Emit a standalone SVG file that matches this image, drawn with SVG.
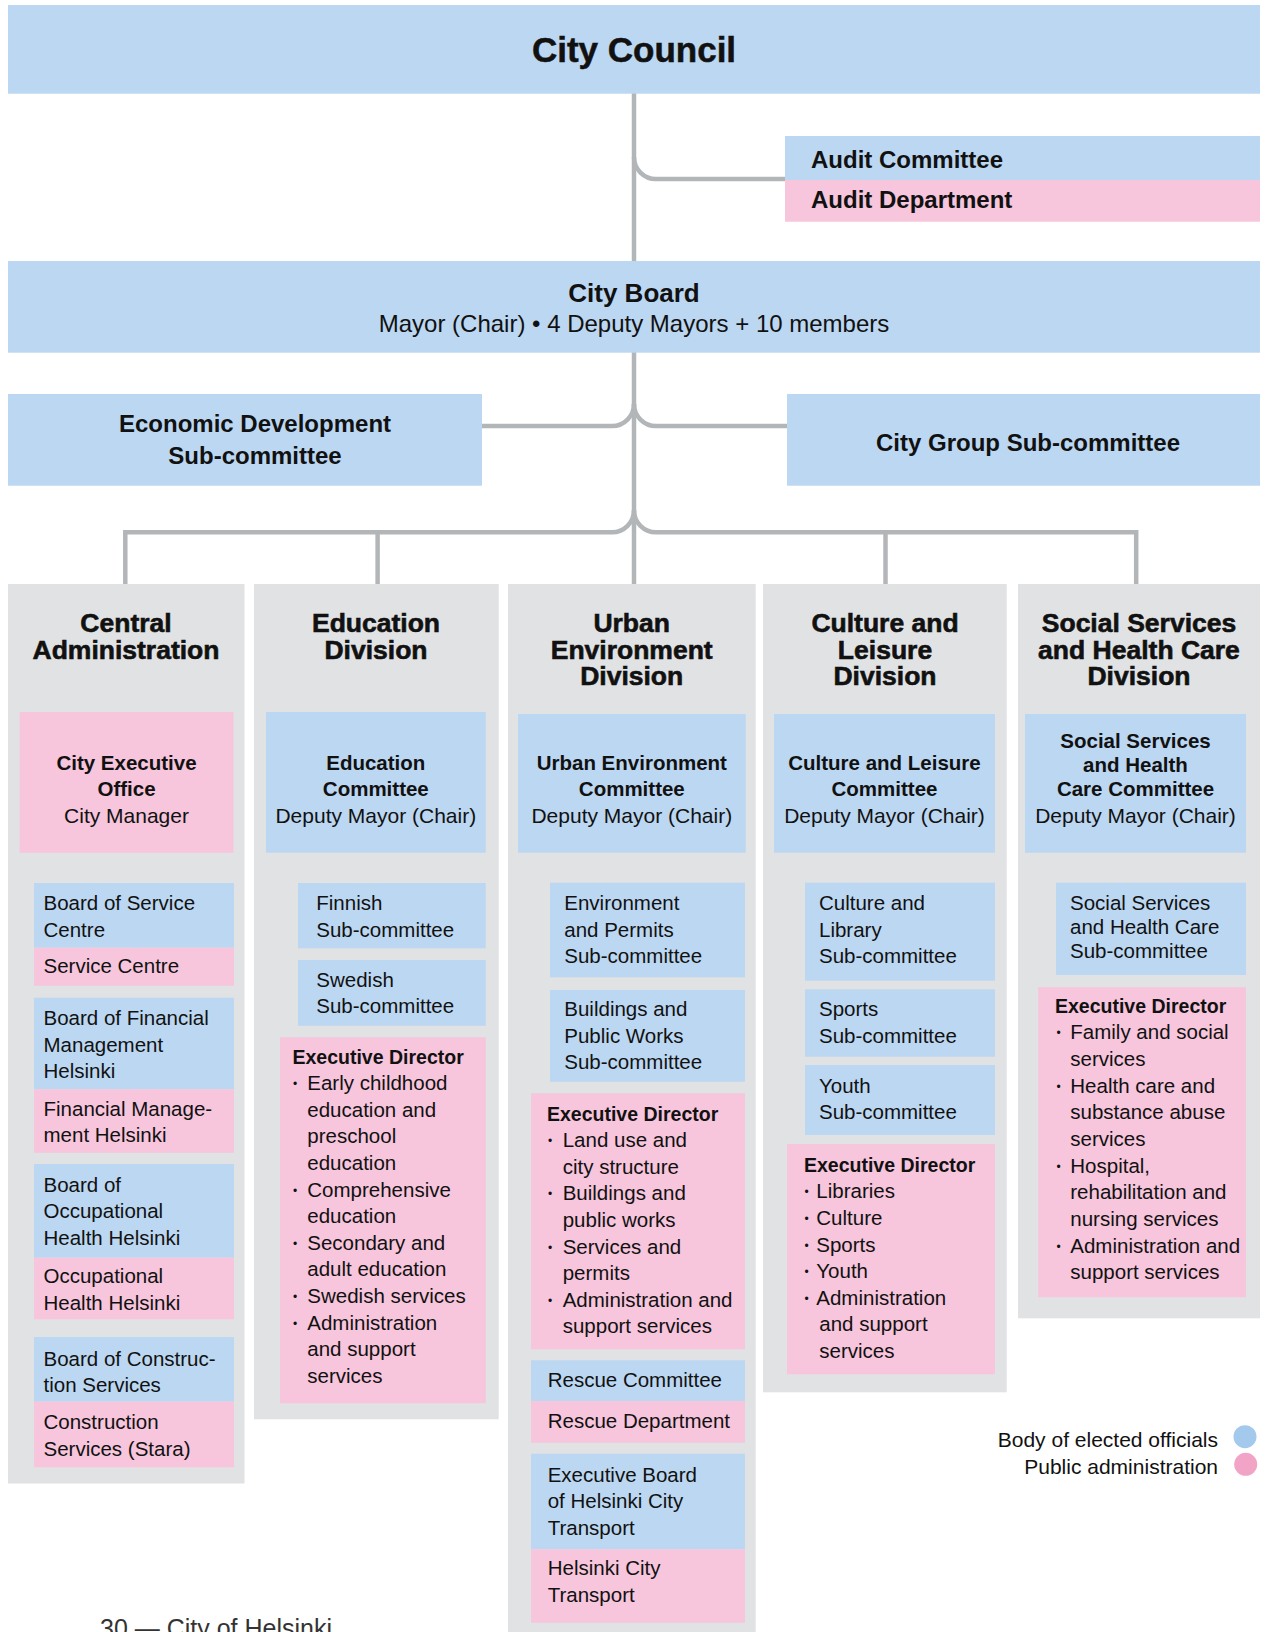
<svg xmlns="http://www.w3.org/2000/svg" width="1268" height="1632" viewBox="0 0 1268 1632">
  <style>
    .blue{fill:#bcd7f1}
    .pink{fill:#f7c5dc}
    .col{fill:#e1e2e4}
    .conn{fill:none;stroke:#b3b6b9;stroke-width:4.5}
    .sub{fill:none;stroke:#9c9ea1;stroke-width:1.5}
    text{font-family:"Liberation Sans",Arial,sans-serif;fill:#111}
    .c{text-anchor:middle}
    .t1{font-size:35px;font-weight:700;stroke:#111;stroke-width:0.5}
    .h2{font-size:24px;font-weight:700}
    .r24{font-size:24px}
    .dv{font-size:26.5px;font-weight:700;stroke:#111;stroke-width:0.6}
    .cb{font-size:20.5px;font-weight:700}
    .cr{font-size:21px}
    .b{font-size:20.5px}
    .ed{font-size:19.5px;font-weight:700}
    .dot{font-size:12px}
    .leg{font-size:21px;text-anchor:end}
    .foot{font-size:25px;fill:#333}
  </style>

  <!-- connectors -->
  <g id="connectors">
    <path class="conn" d="M634 93 V584"/>
    <path class="conn" d="M634 157 A22 22 0 0 0 656 179 H785"/>
    <path class="conn" d="M482 426 H612 A22 22 0 0 0 634 404"/>
    <path class="conn" d="M787 426 H656 A22 22 0 0 1 634 404"/>
    <path class="conn" d="M125.3 584 V532.3 H612 A22 22 0 0 0 634 510.3"/>
    <path class="conn" d="M1136.2 584 V532.3 H656 A22 22 0 0 1 634 510.3"/>
    <path class="conn" d="M377.6 532.3 V584"/>
    <path class="conn" d="M885.5 532.3 V584"/>
    <!-- links inside the divisions -->
    <path class="sub" d="M22 852.7 V1358.3 H34 M22 903 H34 M22 1018.3 H34 M22 1182.7 H34"/>
    <path class="sub" d="M268 852.7 V1059.3 H280 M285 852.7 V977.3 H298 M285 903.3 H298"/>
    <path class="sub" d="M519 852.7 V1473.7 H531 M519 1115.7 H531 M519 1377.7 H531 M535.7 852.7 V1006.7 H550 M535.7 903.3 H550"/>
    <path class="sub" d="M776.7 852.7 V1166 H787 M792 852.7 V1087.7 H805 M792 900.7 H805 M792 1010 H805"/>
    <path class="sub" d="M1028.3 852.7 V1008.3 H1038.3 M1042.7 852.7 V904 H1056"/>
  </g>

  <!-- top level -->
  <g id="city-council">
    <rect class="blue" x="8" y="5" width="1252" height="88.7"/>
    <text class="t1 c" x="634" y="62">City Council</text>
  </g>
  <g id="audit">
    <rect class="blue" x="785" y="136" width="475" height="44"/>
    <rect class="pink" x="785" y="180" width="475" height="41.7"/>
    <text class="h2" x="811" y="168">Audit Committee</text>
    <text class="h2" x="811" y="208">Audit Department</text>
  </g>
  <g id="city-board">
    <rect class="blue" x="8" y="261" width="1252" height="91.7"/>
    <text class="c" x="634" y="302" style="font-size:26px;font-weight:700">City Board</text>
    <text class="r24 c" x="634" y="332">Mayor (Chair) • 4 Deputy Mayors + 10 members</text>
  </g>
  <g id="economic-development">
    <rect class="blue" x="8" y="394" width="474" height="91.7"/>
    <text class="h2 c" x="255" y="432">Economic Development</text>
    <text class="h2 c" x="255" y="464">Sub-committee</text>
  </g>
  <g id="city-group">
    <rect class="blue" x="787" y="394" width="473" height="91.7"/>
    <text class="h2 c" x="1028" y="450.5">City Group Sub-committee</text>
  </g>

  <!-- Central Administration -->
  <g id="central-administration">
    <rect class="col" x="8" y="584" width="236.5" height="899.5"/>
    <text class="dv c" x="126" y="632">Central</text>
    <text class="dv c" x="126" y="658.7">Administration</text>
    <rect class="pink" x="19.6" y="712" width="213.9" height="140.7"/>
    <text class="cb c" x="126.5" y="770">City Executive</text>
    <text class="cb c" x="126.5" y="796">Office</text>
    <text class="cr c" x="126.5" y="822.7">City Manager</text>

    <rect class="blue" x="34" y="883" width="200" height="64.7"/>
    <rect class="pink" x="34" y="947.7" width="200" height="38"/>
    <text class="b" x="43.5" y="910">Board of Service</text>
    <text class="b" x="43.5" y="936.7">Centre</text>
    <text class="b" x="43.5" y="973.3">Service Centre</text>

    <rect class="blue" x="34" y="997.7" width="200" height="91.6"/>
    <rect class="pink" x="34" y="1089.3" width="200" height="63.4"/>
    <text class="b" x="43.5" y="1025">Board of Financial</text>
    <text class="b" x="43.5" y="1051.7">Management</text>
    <text class="b" x="43.5" y="1078.3">Helsinki</text>
    <text class="b" x="43.5" y="1115.7">Financial Manage-</text>
    <text class="b" x="43.5" y="1142.3">ment Helsinki</text>

    <rect class="blue" x="34" y="1164" width="200" height="93.7"/>
    <rect class="pink" x="34" y="1257.7" width="200" height="61.6"/>
    <text class="b" x="43.5" y="1191.7">Board of</text>
    <text class="b" x="43.5" y="1218.3">Occupational</text>
    <text class="b" x="43.5" y="1245">Health Helsinki</text>
    <text class="b" x="43.5" y="1283.3">Occupational</text>
    <text class="b" x="43.5" y="1310">Health Helsinki</text>

    <rect class="blue" x="34" y="1337" width="200" height="64.7"/>
    <rect class="pink" x="34" y="1401.7" width="200" height="65.6"/>
    <text class="b" x="43.5" y="1365.7">Board of Construc-</text>
    <text class="b" x="43.5" y="1392.3">tion Services</text>
    <text class="b" x="43.5" y="1429">Construction</text>
    <text class="b" x="43.5" y="1455.7">Services (Stara)</text>
  </g>

  <!-- Education Division -->
  <g id="education-division">
    <rect class="col" x="254" y="584" width="244.7" height="835.3"/>
    <text class="dv c" x="376" y="632">Education</text>
    <text class="dv c" x="376" y="658.7">Division</text>
    <rect class="blue" x="266" y="712" width="219.7" height="140.7"/>
    <text class="cb c" x="375.8" y="770">Education</text>
    <text class="cb c" x="375.8" y="796">Committee</text>
    <text class="cr c" x="375.8" y="822.7">Deputy Mayor (Chair)</text>

    <rect class="blue" x="298" y="883" width="187.7" height="65.3"/>
    <text class="b" x="316.3" y="910">Finnish</text>
    <text class="b" x="316.3" y="936.7">Sub-committee</text>
    <rect class="blue" x="298" y="960" width="187.7" height="65.7"/>
    <text class="b" x="316.3" y="986.7">Swedish</text>
    <text class="b" x="316.3" y="1013.3">Sub-committee</text>

    <rect class="pink" x="280" y="1037.3" width="205.7" height="366"/>
    <text class="ed" x="292.5" y="1063.5">Executive Director</text>
    <text class="dot" x="293" y="1088.2">•</text>
    <text class="b" x="307.3" y="1090.2">Early childhood</text>
    <text class="b" x="307.3" y="1116.8">education and</text>
    <text class="b" x="307.3" y="1143.4">preschool</text>
    <text class="b" x="307.3" y="1170">education</text>
    <text class="dot" x="293" y="1194.6">•</text>
    <text class="b" x="307.3" y="1196.6">Comprehensive</text>
    <text class="b" x="307.3" y="1223.2">education</text>
    <text class="dot" x="293" y="1247.8">•</text>
    <text class="b" x="307.3" y="1249.8">Secondary and</text>
    <text class="b" x="307.3" y="1276.4">adult education</text>
    <text class="dot" x="293" y="1301">•</text>
    <text class="b" x="307.3" y="1303">Swedish services</text>
    <text class="dot" x="293" y="1327.6">•</text>
    <text class="b" x="307.3" y="1329.6">Administration</text>
    <text class="b" x="307.3" y="1356.2">and support</text>
    <text class="b" x="307.3" y="1382.8">services</text>
  </g>

  <!-- Urban Environment Division -->
  <g id="urban-environment-division">
    <rect class="col" x="508" y="584" width="247.7" height="1048"/>
    <text class="dv c" x="631.7" y="632">Urban</text>
    <text class="dv c" x="631.7" y="658.7">Environment</text>
    <text class="dv c" x="631.7" y="685.3">Division</text>
    <rect class="blue" x="518" y="714" width="227.7" height="138.7"/>
    <text class="cb c" x="631.8" y="770">Urban Environment</text>
    <text class="cb c" x="631.8" y="796">Committee</text>
    <text class="cr c" x="631.8" y="823.3">Deputy Mayor (Chair)</text>

    <rect class="blue" x="550" y="882.7" width="195" height="94.6"/>
    <text class="b" x="564.3" y="910">Environment</text>
    <text class="b" x="564.3" y="936.7">and Permits</text>
    <text class="b" x="564.3" y="963.3">Sub-committee</text>
    <rect class="blue" x="550" y="990" width="195" height="91.7"/>
    <text class="b" x="564.3" y="1016">Buildings and</text>
    <text class="b" x="564.3" y="1042.7">Public Works</text>
    <text class="b" x="564.3" y="1069.3">Sub-committee</text>

    <rect class="pink" x="531" y="1093.3" width="214" height="256"/>
    <text class="ed" x="547" y="1120.5">Executive Director</text>
    <text class="dot" x="548" y="1145">•</text>
    <text class="b" x="562.7" y="1147">Land use and</text>
    <text class="b" x="562.7" y="1173.7">city structure</text>
    <text class="dot" x="548" y="1198.3">•</text>
    <text class="b" x="562.7" y="1200.3">Buildings and</text>
    <text class="b" x="562.7" y="1226.9">public works</text>
    <text class="dot" x="548" y="1251.5">•</text>
    <text class="b" x="562.7" y="1253.5">Services and</text>
    <text class="b" x="562.7" y="1280">permits</text>
    <text class="dot" x="548" y="1304.6">•</text>
    <text class="b" x="562.7" y="1306.6">Administration and</text>
    <text class="b" x="562.7" y="1333.2">support services</text>

    <rect class="blue" x="531" y="1360.3" width="214" height="40.7"/>
    <rect class="pink" x="531" y="1401" width="214" height="41.7"/>
    <text class="b" x="547.7" y="1387">Rescue Committee</text>
    <text class="b" x="547.7" y="1427.7">Rescue Department</text>

    <rect class="blue" x="531" y="1453.7" width="214" height="95.6"/>
    <rect class="pink" x="531" y="1549.3" width="214" height="73.4"/>
    <text class="b" x="547.7" y="1482">Executive Board</text>
    <text class="b" x="547.7" y="1508.3">of Helsinki City</text>
    <text class="b" x="547.7" y="1534.6">Transport</text>
    <text class="b" x="547.7" y="1575.3">Helsinki City</text>
    <text class="b" x="547.7" y="1602">Transport</text>
  </g>

  <!-- Culture and Leisure Division -->
  <g id="culture-leisure-division">
    <rect class="col" x="763" y="584" width="243.7" height="808.3"/>
    <text class="dv c" x="885" y="632">Culture and</text>
    <text class="dv c" x="885" y="658.7">Leisure</text>
    <text class="dv c" x="885" y="685.3">Division</text>
    <rect class="blue" x="774" y="714" width="221" height="138.7"/>
    <text class="cb c" x="884.5" y="770">Culture and Leisure</text>
    <text class="cb c" x="884.5" y="796">Committee</text>
    <text class="cr c" x="884.5" y="823.3">Deputy Mayor (Chair)</text>

    <rect class="blue" x="805" y="882.7" width="190" height="98"/>
    <text class="b" x="819" y="910">Culture and</text>
    <text class="b" x="819" y="936.7">Library</text>
    <text class="b" x="819" y="963.3">Sub-committee</text>
    <rect class="blue" x="805" y="989.3" width="190" height="67.4"/>
    <text class="b" x="819" y="1016">Sports</text>
    <text class="b" x="819" y="1042.7">Sub-committee</text>
    <rect class="blue" x="805" y="1065" width="190" height="70"/>
    <text class="b" x="819" y="1093">Youth</text>
    <text class="b" x="819" y="1119.3">Sub-committee</text>

    <rect class="pink" x="787" y="1144" width="208" height="230.3"/>
    <text class="ed" x="804" y="1171.7">Executive Director</text>
    <text class="dot" x="804.5" y="1196.3">•</text>
    <text class="b" x="816.3" y="1198.3">Libraries</text>
    <text class="dot" x="804.5" y="1222.9">•</text>
    <text class="b" x="816.3" y="1224.9">Culture</text>
    <text class="dot" x="804.5" y="1249.5">•</text>
    <text class="b" x="816.3" y="1251.5">Sports</text>
    <text class="dot" x="804.5" y="1276.1">•</text>
    <text class="b" x="816.3" y="1278.1">Youth</text>
    <text class="dot" x="804.5" y="1302.7">•</text>
    <text class="b" x="816.3" y="1304.7">Administration</text>
    <text class="b" x="819.3" y="1331.3">and support</text>
    <text class="b" x="819.3" y="1357.9">services</text>
  </g>

  <!-- Social Services and Health Care Division -->
  <g id="social-health-division">
    <rect class="col" x="1018" y="584" width="242" height="734.3"/>
    <text class="dv c" x="1139" y="632">Social Services</text>
    <text class="dv c" x="1139" y="658.7">and Health Care</text>
    <text class="dv c" x="1139" y="685.3">Division</text>
    <rect class="blue" x="1025" y="714" width="221" height="138.7"/>
    <text class="cb c" x="1135.5" y="747.7">Social Services</text>
    <text class="cb c" x="1135.5" y="771.7">and Health</text>
    <text class="cb c" x="1135.5" y="795.7">Care Committee</text>
    <text class="cr c" x="1135.5" y="823.3">Deputy Mayor (Chair)</text>

    <rect class="blue" x="1056" y="882.7" width="190" height="92.3"/>
    <text class="b" x="1070" y="910">Social Services</text>
    <text class="b" x="1070" y="933.7">and Health Care</text>
    <text class="b" x="1070" y="957.7">Sub-committee</text>

    <rect class="pink" x="1038.3" y="987.3" width="207.7" height="310"/>
    <text class="ed" x="1055" y="1012.7">Executive Director</text>
    <text class="dot" x="1056.5" y="1037.3">•</text>
    <text class="b" x="1070.3" y="1039.3">Family and social</text>
    <text class="b" x="1070.3" y="1066">services</text>
    <text class="dot" x="1056.5" y="1090.7">•</text>
    <text class="b" x="1070.3" y="1092.7">Health care and</text>
    <text class="b" x="1070.3" y="1119.3">substance abuse</text>
    <text class="b" x="1070.3" y="1146">services</text>
    <text class="dot" x="1056.5" y="1170.6">•</text>
    <text class="b" x="1070.3" y="1172.6">Hospital,</text>
    <text class="b" x="1070.3" y="1199.2">rehabilitation and</text>
    <text class="b" x="1070.3" y="1225.9">nursing services</text>
    <text class="dot" x="1056.5" y="1250.5">•</text>
    <text class="b" x="1070.3" y="1252.5">Administration and</text>
    <text class="b" x="1070.3" y="1279.1">support services</text>
  </g>

  <!-- legend -->
  <g id="legend">
    <text class="leg" x="1218" y="1447.3">Body of elected officials</text>
    <text class="leg" x="1218" y="1474.3">Public administration</text>
    <circle cx="1245" cy="1436.7" r="11.5" fill="#a3c9ec"/>
    <circle cx="1245.7" cy="1464.3" r="11.5" fill="#f2a4c7"/>
  </g>

  <!-- page footer -->
  <text class="foot" x="100" y="1637">30 — City of Helsinki</text>
</svg>
